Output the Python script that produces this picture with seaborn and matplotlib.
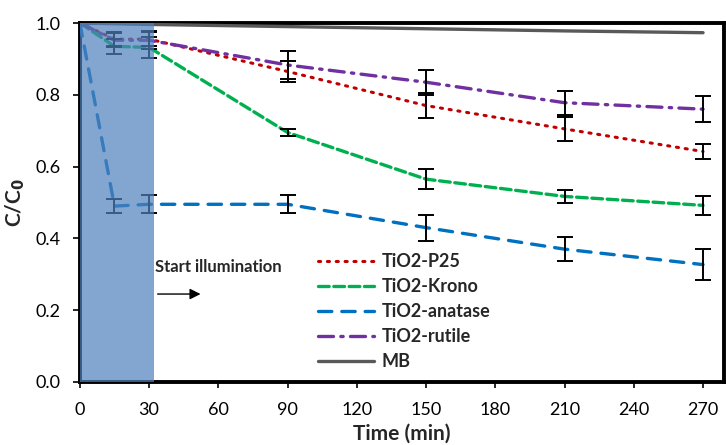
import numpy as np
import pandas as pd
import matplotlib
matplotlib.use("Agg")
import matplotlib.pyplot as plt
import seaborn as sns

# ---- data ----
time = [0, 15, 30, 90, 150, 210, 270]
p25 = [1.0, 0.955, 0.955, 0.865, 0.770, 0.705, 0.642]
p25_err = [0, 0.02, 0.02, 0.03, 0.035, 0.033, 0.022]
krono = [1.0, 0.935, 0.932, 0.695, 0.565, 0.517, 0.492]
krono_err = [0, 0.02, 0.03, 0.01, 0.027, 0.018, 0.026]
anatase = [1.0, 0.49, 0.495, 0.495, 0.430, 0.370, 0.327]
anatase_err = [0, 0.02, 0.025, 0.025, 0.036, 0.033, 0.044]
rutile = [1.0, 0.952, 0.952, 0.883, 0.835, 0.778, 0.760]
rutile_err = [0, 0.02, 0.025, 0.04, 0.035, 0.033, 0.036]
mb = [1.0, 0.998, 0.996, 0.99, 0.984, 0.978, 0.973]

labels = ["TiO2-P25", "TiO2-Krono", "TiO2-anatase", "TiO2-rutile", "MB"]
xticks = [0, 30, 60, 90, 120, 150, 180, 210, 240, 270]
yticks = [0.0, 0.2, 0.4, 0.6, 0.8, 1.0]

sns.set_theme(style="ticks")
plt.rcParams["font.family"] = ["Lato", "DejaVu Sans"]

fig = plt.figure(figsize=(7.26, 4.45), dpi=100)
ax = fig.add_axes([0.110, 0.1416, 0.887, 0.8067])

series = [
    (p25, p25_err, "#C00000", (0, (0.7, 2.2)), 2.2),
    (krono, krono_err, "#00B050", (0, (3.2, 1.4)), 2.4),
    (anatase, anatase_err, "#0070C0", (0, (4.0, 3.0)), 2.4),
    (rutile, rutile_err, "#7030A0", (0, (4.5, 2.2, 0.7, 2.2)), 2.4),
    (mb, None, "#595959", "-", 2.4),
]

for (vals, err, col, ls, lw), lab in zip(series, labels):
    df = pd.DataFrame({"t": time, "c": vals})
    sns.lineplot(data=df, x="t", y="c", ax=ax, color=col, linestyle=ls,
                 linewidth=lw, label=lab, zorder=3)
    ax.lines[-1].set_dash_capstyle("round")
    if err is not None:
        ax.errorbar(time[1:], vals[1:], yerr=err[1:], fmt="none",
                    ecolor="black", elinewidth=1.4, capsize=6, capthick=1.4,
                    zorder=4)

# illumination shading (drawn on top, semi-transparent)
ax.axvspan(0, 32, facecolor="#4F81BD", alpha=0.7, zorder=5, lw=0)

ax.set_xlim(0, 279)
ax.set_ylim(0, 1.0)
ax.set_xticks(xticks)
ax.set_yticks(yticks)
ax.set_yticklabels([f"{v:.1f}" for v in yticks])
ax.tick_params(axis="both", labelsize=13, width=1.2, direction="out",
               color="black", labelcolor="black")
ax.tick_params(axis="x", length=4.5, pad=10)
ax.tick_params(axis="y", length=5, pad=9)
for s in ax.spines.values():
    s.set_linewidth(2.8)
    s.set_color("black")
    s.set_visible(True)

ax.set_xlabel("Time (min)", fontsize=15, fontweight="bold", labelpad=4)
ax.set_ylabel("C/C$_\\mathbf{0}$", fontsize=15, fontweight="bold", labelpad=6)

ax.text(32.5, 0.32, "Start illumination", fontsize=12, fontweight="bold",
        ha="left", va="center", zorder=6)
ax.annotate("", xy=(53.5, 0.245), xytext=(32.5, 0.245),
            arrowprops=dict(arrowstyle="-|>", color="black", lw=1.0,
                            mutation_scale=16), zorder=6)

leg = ax.legend(loc="center left", bbox_to_anchor=(0.345, 0.196), frameon=False,
                handlelength=3.1, labelspacing=0.45, handletextpad=0.4,
                borderpad=0.4, prop={"weight": "bold", "size": 13})

fig.savefig("out.png", dpi=100)
